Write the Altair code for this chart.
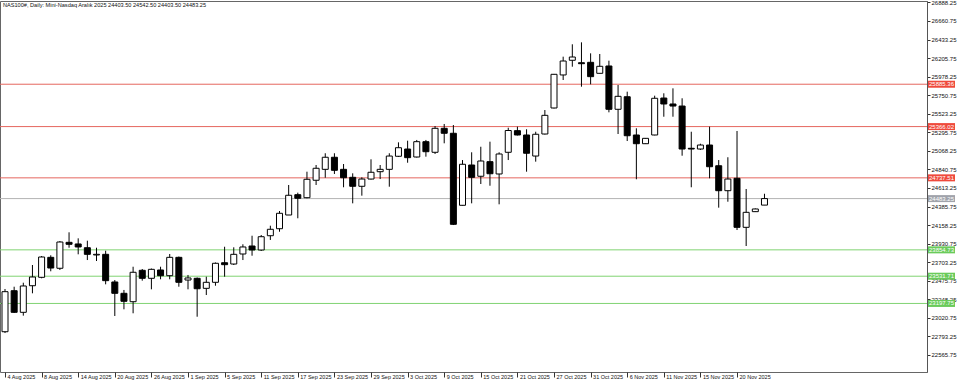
import altair as alt
import pandas as pd

# ---- data (daily candles, 4 Aug 2025 .. 21 Nov 2025) ----
opens = [22851, 23354, 23089, 23415, 23518, 23763, 23629, 23947, 23927, 23881,
         23792, 23800, 23461, 23322, 23219, 23604, 23506, 23608, 23538, 23763,
         23485, 23506, 23383, 23457, 23697, 23681, 23804, 23902, 23853, 24028,
         24114, 24282, 24531, 24494, 24708, 24842, 24990, 24842, 24744, 24634,
         24723, 24813, 24842, 25002, 25091, 24993, 25181, 25051, 25345, 25284,
         24401, 24895, 24757, 24936, 24785, 25051, 25316, 25263, 25005, 25275,
         25594, 25999, 26179, 26149, 26154, 26019, 26109, 25578, 25732, 25263,
         25156, 25263, 25716, 25643, 25618, 25100, 25091, 25140, 24886, 24580,
         24732, 24131, 24323, 24403.5]
highs = [23375, 23403, 23452, 23669, 23779, 23788, 23963, 24070, 23996, 23967,
         23881, 23844, 23485, 23363, 23648, 23620, 23626, 23648, 23804, 23773,
         23547, 23516, 23526, 23700, 23893, 23886, 23923, 24028, 24037, 24151,
         24331, 24650, 24556, 24813, 24895, 25039, 25039, 24907, 24793, 24744,
         24965, 24895, 25039, 25173, 25193, 25202, 25202, 25373, 25398, 25385,
         24956, 25051, 25119, 25181, 25051, 25352, 25365, 25333, 25303, 25569,
         26011, 26223, 26375, 26399, 26264, 26256, 26174, 25876, 25794, 25345,
         25226, 25745, 25774, 25835, 25713, 25303, 25156, 25365, 24956, 24990,
         25312, 24601, 24362, 24542.5]
lows = [22835, 23081, 23048, 23322, 23506, 23592, 23608, 23881, 23800, 23730,
        23718, 23432, 23044, 23126, 23077, 23477, 23371, 23494, 23494, 23403,
        23371, 23035, 23301, 23415, 23526, 23669, 23730, 23783, 23841, 23976,
        24077, 24282, 24242, 24487, 24650, 24739, 24785, 24622, 24425, 24519,
        24717, 24723, 24629, 24993, 24923, 24987, 24997, 25030, 25161, 24159,
        24399, 24425, 24662, 24641, 24413, 24956, 25257, 24813, 24936, 25269,
        25588, 25937, 26100, 25855, 25884, 26017, 25541, 25275, 25189, 24720,
        25153, 25259, 25487, 25487, 25009, 24622, 25079, 24732, 24372, 24445,
        24098, 23902, 24319, 24403.5]
closes = [23342, 23089, 23412, 23522, 23767, 23632, 23951, 23923, 23890, 23800,
          23800, 23477, 23322, 23224, 23580, 23506, 23616, 23538, 23763, 23457,
          23510, 23378, 23457, 23690, 23673, 23800, 23890, 23853, 24016, 24107,
          24303, 24524, 24487, 24720, 24855, 24990, 24830, 24739, 24634, 24723,
          24806, 24842, 25005, 25107, 24985, 25181, 25058, 25345, 25284, 24168,
          24904, 24744, 24944, 24788, 25030, 25318, 25263, 25039, 25272, 25504,
          26007, 26170, 26219, 26137, 25978, 26105, 25578, 25737, 25254, 25156,
          25222, 25713, 25643, 25618, 25091, 25091, 25140, 24874, 24580, 24723,
          24131, 24315, 24356, 24483.25]

date_labels = ["4 Aug 2025", "8 Aug 2025", "14 Aug 2025", "20 Aug 2025", "26 Aug 2025",
               "1 Sep 2025", "5 Sep 2025", "11 Sep 2025", "17 Sep 2025", "23 Sep 2025",
               "29 Sep 2025", "3 Oct 2025", "9 Oct 2025", "15 Oct 2025", "21 Oct 2025",
               "27 Oct 2025", "31 Oct 2025", "6 Nov 2025", "11 Nov 2025", "15 Nov 2025",
               "20 Nov 2025"]
date_label_index = list(range(0, 81, 4))

price_ticks = [26888.25, 26660.75, 26433.25, 26205.75, 25978.25, 25750.75, 25523.25,
               25295.75, 25068.25, 24840.75, 24613.25, 24385.75, 24158.25, 23930.75,
               23703.25, 23475.75, 23248.25, 23020.75, 22793.25, 22565.75]

level_prices = [25885.36, 25366.02, 24737.51, 24483.25, 23854.73, 23531.71, 23197.75]
level_labels = ["25885.36", "25366.02", "24737.51", "24483.25", "23854.73", "23531.71", "23197.75"]
level_kinds = ["res", "res", "res", "bid", "sup", "sup", "sup"]

title_text = "NAS100#, Daily:  Mini-Nasdaq Aralık 2025  24403.50 24542.50 24403.50 24483.25"

# ---- tables ----
df = pd.DataFrame({"i": list(range(len(opens))), "o": opens, "h": highs, "l": lows, "c": closes})
lv = pd.DataFrame({"p": level_prices, "t": level_labels, "k": level_kinds})

FONT = "Liberation Sans"
label_arr = "[" + ",".join("'%s'" % s for s in date_labels) + "]"

xscale = alt.Scale(domain=[0, 100.216], nice=False, zero=False)
yscale = alt.Scale(domain=[22357.3, 26905.7], nice=False, zero=False)

xaxis = alt.Axis(values=date_label_index, labelExpr=label_arr + "[round(datum.value/4)]",
                 tickSize=5, tickColor="#333", labelAlign="left", labelBaseline="top",
                 labelPadding=-3, labelOffset=2, labelFontSize=5.5, labelFont=FONT,
                 labelColor="#111", grid=False, domain=False, title=None,
                 labelFlush=False, labelOverlap=False)
yaxis = alt.Axis(orient="right", values=price_ticks, format=".2f", tickSize=3,
                 tickColor="#333", labelPadding=1, labelFontSize=6, labelFont=FONT,
                 labelColor="#111", grid=False, domain=True, domainColor="#555",
                 title=None, labelFlush=False, labelOverlap=False)

X = alt.X("i:Q", scale=xscale, axis=xaxis)

wick = alt.Chart(df).mark_rule(color="black", strokeWidth=1, clip=True).encode(
    x=X, y=alt.Y("l:Q", scale=yscale, axis=yaxis), y2="h:Q")

body = alt.Chart(df).mark_bar(size=6, stroke="black", strokeWidth=1, clip=True).encode(
    x=X, y=alt.Y("o:Q", scale=yscale, axis=yaxis), y2="c:Q",
    fill=alt.condition("datum.c >= datum.o", alt.value("white"), alt.value("black")))

kind_scale_line = alt.Scale(domain=["res", "bid", "sup"], range=["#e5675f", "#b4b4b4", "#80d372"])
kind_scale_box = alt.Scale(domain=["res", "bid", "sup"], range=["#ef4a3c", "#a0a3ab", "#6acb5b"])

lines = alt.Chart(lv).mark_rule(strokeWidth=1).encode(
    y=alt.Y("p:Q", scale=yscale, axis=yaxis),
    color=alt.Color("k:N", scale=kind_scale_line, legend=None))

boxes = alt.Chart(lv).mark_rect(yOffset=-3.5, y2Offset=3.5).encode(
    x=alt.value(928), x2=alt.value(955),
    y=alt.Y("p:Q", scale=yscale, axis=yaxis), y2="p:Q",
    fill=alt.Fill("k:N", scale=kind_scale_box, legend=None))

box_text = alt.Chart(lv).mark_text(color="white", fontSize=6, font=FONT, align="center",
                                   baseline="middle").encode(
    x=alt.value(941.5), y=alt.Y("p:Q", scale=yscale, axis=yaxis), text="t:N")

title = alt.Chart(pd.DataFrame({"t": [title_text]})).mark_text(
    align="left", baseline="middle", fontSize=5.6, font=FONT, color="#111").encode(
    x=alt.value(3), y=alt.value(4), text="t:N")

chart = alt.layer(lines, wick, body, boxes, box_text, title).resolve_scale(
    color="independent", fill="independent").properties(
    width=927, height=371,
    autosize=alt.AutoSizeParams(type="none"),
    padding={"left": 0, "top": 1, "right": 33, "bottom": 16},
    background="white",
).configure_view(stroke="#666", strokeWidth=1)

chart.save("out.html", embed_options={"renderer": "svg", "actions": False})
